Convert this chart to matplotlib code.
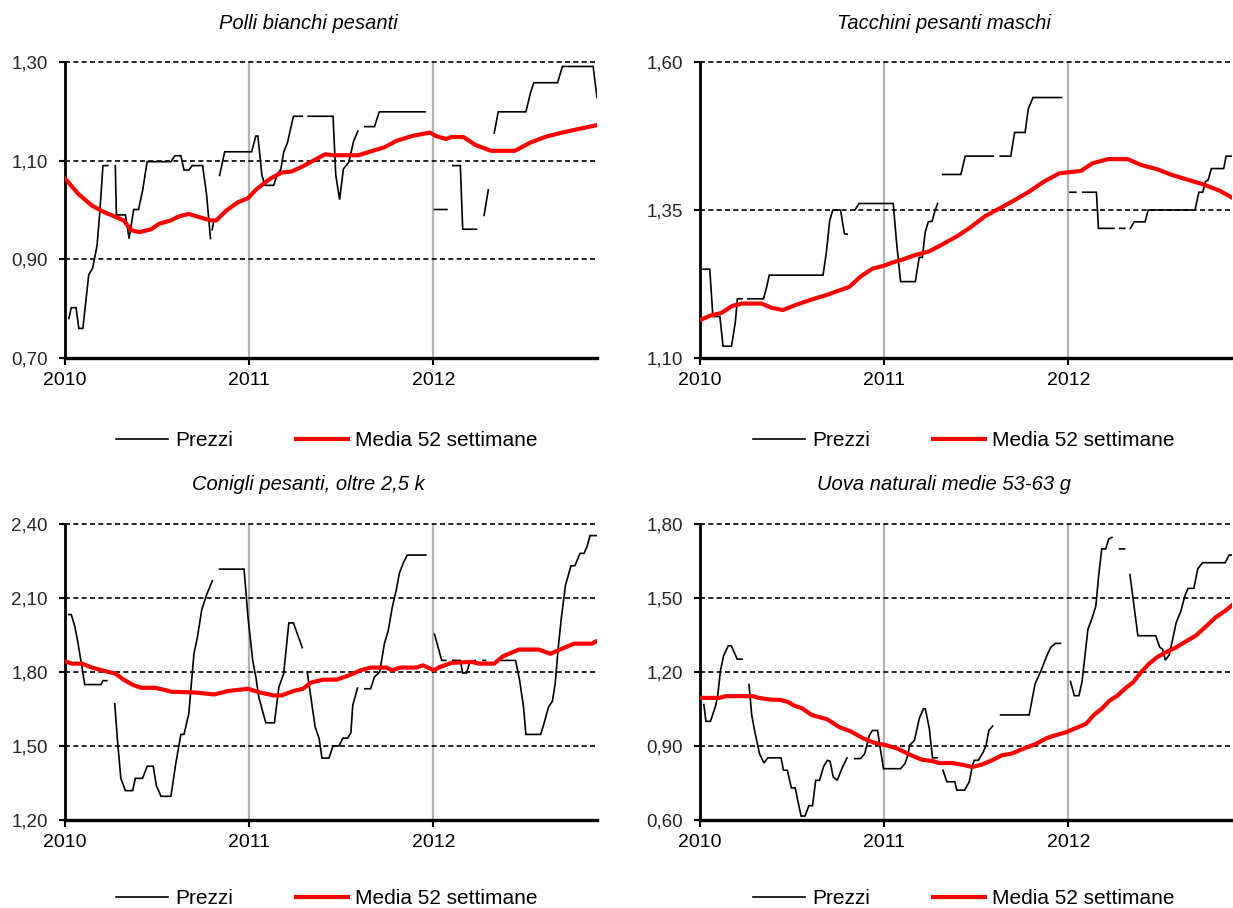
import numpy as np
import matplotlib
matplotlib.use('Agg')
import matplotlib.pyplot as plt
from matplotlib import font_manager

nan = np.nan

# ---------------- data (x in fractional years) ----------------
titles = ["Polli bianchi pesanti", "Tacchini pesanti maschi",
          "Conigli pesanti, oltre 2,5 k", "Uova naturali medie 53-63 g"]
series_names = ["Prezzi", "Media 52 settimane"]
year_ticks = [2010, 2011, 2012]
year_labels = ["2010", "2011", "2012"]

y_ticks_1 = [0.70, 0.90, 1.10, 1.30]
y_ticks_2 = [1.10, 1.35, 1.60]
y_ticks_3 = [1.20, 1.50, 1.80, 2.10, 2.40]
y_ticks_4 = [0.60, 0.90, 1.20, 1.50, 1.80]

# Panel 1 - Polli
p1_price_x = [2010.021, 2010.034, 2010.060, 2010.075, 2010.097, 2010.129, 2010.150, 2010.174, 2010.189, 2010.206, 2010.232, nan,
              2010.273, 2010.279, 2010.328, 2010.348, 2010.373, 2010.399, 2010.421, 2010.446, 2010.575, 2010.597, 2010.629,
              2010.646, 2010.672, 2010.691, 2010.747, 2010.768, 2010.790, nan,
              2010.799, 2010.806, nan,
              2010.839, 2010.867, 2011.013, 2011.036, 2011.047, 2011.069, 2011.086, 2011.133, 2011.150, 2011.172, 2011.187,
              2011.208, 2011.240, 2011.288, nan,
              2011.320, 2011.455, 2011.470, 2011.491, 2011.511, 2011.541, 2011.567, 2011.590, nan,
              2011.627, 2011.680, 2011.706, 2011.955, nan,
              2012.006, 2012.073, nan,
              2012.105, 2012.146, 2012.159, 2012.234, nan,
              2012.275, 2012.298, nan,
              2012.330, 2012.352, 2012.502, 2012.528, 2012.545, 2012.674, 2012.700, 2012.867, 2012.888]
p1_price_y = [0.780, 0.802, 0.802, 0.760, 0.760, 0.869, 0.882, 0.928, 0.996, 1.090, 1.090, nan,
              1.090, 0.990, 0.990, 0.942, 1.001, 1.001, 1.039, 1.098, 1.098, 1.110, 1.110,
              1.081, 1.081, 1.090, 1.090, 1.033, 0.942, nan,
              0.960, 0.975, nan,
              1.070, 1.118, 1.118, 1.150, 1.150, 1.070, 1.050, 1.050, 1.070, 1.083, 1.117,
              1.137, 1.190, 1.190, nan,
              1.190, 1.190, 1.070, 1.021, 1.083, 1.097, 1.140, 1.160, nan,
              1.169, 1.169, 1.199, 1.199, nan,
              1.001, 1.001, nan,
              1.090, 1.090, 0.961, 0.961, nan,
              0.989, 1.041, nan,
              1.156, 1.199, 1.199, 1.239, 1.258, 1.258, 1.291, 1.291, 1.228]
p1_avg_x = [2010.000, 2010.071, 2010.146, 2010.210, 2010.275, 2010.318, 2010.361, 2010.403, 2010.468, 2010.511, 2010.575,
            2010.618, 2010.672, 2010.725, 2010.790, 2010.822, 2010.876, 2010.940, 2010.994, 2011.036, 2011.112, 2011.176,
            2011.230, 2011.283, 2011.348, 2011.412, 2011.455, 2011.594, 2011.670, 2011.734, 2011.798, 2011.884, 2011.981,
            2012.013, 2012.067, 2012.099, 2012.163, 2012.227, 2012.313, 2012.442, 2012.528, 2012.614, 2012.700, 2012.785,
            2012.888]
p1_avg_y = [1.064, 1.033, 1.009, 0.996, 0.986, 0.979, 0.959, 0.955, 0.961, 0.972, 0.979,
            0.987, 0.992, 0.986, 0.979, 0.979, 0.999, 1.016, 1.024, 1.041, 1.063, 1.076,
            1.078, 1.087, 1.100, 1.113, 1.111, 1.111, 1.120, 1.127, 1.140, 1.150, 1.157,
            1.150, 1.144, 1.148, 1.148, 1.132, 1.120, 1.120, 1.137, 1.149, 1.157, 1.164,
            1.172]

# Panel 2 - Tacchini
p2_price_x = [2010.017, 2010.053, 2010.070, 2010.108, 2010.125, 2010.171, 2010.192, 2010.203, 2010.228, nan,
              2010.260, 2010.345, 2010.362, 2010.376, 2010.668, 2010.687, 2010.704, 2010.721, 2010.763, 2010.784, 2010.799, nan,
              2010.841, 2010.863, 2011.049, 2011.068, 2011.089, 2011.169, 2011.190, 2011.207, 2011.222, 2011.239, 2011.260,
              2011.275, 2011.290, nan,
              2011.317, 2011.416, 2011.440, 2011.592, nan,
              2011.630, 2011.687, 2011.708, 2011.765, 2011.782, 2011.808, 2011.962, nan,
              2012.008, 2012.040, nan,
              2012.078, 2012.152, 2012.163, 2012.247, nan,
              2012.279, 2012.306, nan,
              2012.336, 2012.357, 2012.416, 2012.433, 2012.687, 2012.708, 2012.729, 2012.744, 2012.759, 2012.776, 2012.843,
              2012.856, 2012.888]
p2_price_y = [1.250, 1.250, 1.170, 1.170, 1.120, 1.120, 1.161, 1.200, 1.200, nan,
              1.200, 1.200, 1.220, 1.240, 1.240, 1.281, 1.332, 1.350, 1.350, 1.310, 1.309, nan,
              1.350, 1.361, 1.361, 1.292, 1.229, 1.229, 1.270, 1.270, 1.312, 1.330, 1.331,
              1.348, 1.361, nan,
              1.410, 1.410, 1.441, 1.441, nan,
              1.441, 1.441, 1.481, 1.481, 1.521, 1.540, 1.540, nan,
              1.380, 1.380, nan,
              1.380, 1.380, 1.319, 1.319, nan,
              1.319, 1.319, nan,
              1.319, 1.330, 1.330, 1.350, 1.350, 1.380, 1.380, 1.398, 1.401, 1.420, 1.420,
              1.441, 1.441]
p2_avg_x = [2010.000, 2010.059, 2010.116, 2010.175, 2010.228, 2010.334, 2010.387, 2010.450, 2010.514, 2010.598, 2010.683,
            2010.746, 2010.810, 2010.873, 2010.937, 2011.000, 2011.042, 2011.106, 2011.169, 2011.243, 2011.317, 2011.402,
            2011.465, 2011.550, 2011.634, 2011.698, 2011.782, 2011.867, 2011.951, 2012.068, 2012.131, 2012.216, 2012.321,
            2012.395, 2012.480, 2012.564, 2012.649, 2012.734, 2012.818, 2012.888]
p2_avg_y = [1.164, 1.172, 1.176, 1.188, 1.192, 1.192, 1.185, 1.181, 1.189, 1.198, 1.206,
            1.213, 1.220, 1.238, 1.251, 1.256, 1.261, 1.267, 1.274, 1.280, 1.292, 1.307,
            1.320, 1.340, 1.354, 1.365, 1.380, 1.398, 1.412, 1.416, 1.429, 1.436, 1.436,
            1.426, 1.419, 1.409, 1.401, 1.393, 1.383, 1.371]

# Panel 3 - Conigli
p3_price_x = [2010.021, 2010.034, 2010.054, 2010.071, 2010.092, 2010.107, 2010.195, 2010.206, 2010.227, nan,
              2010.270, 2010.285, 2010.303, 2010.328, 2010.367, 2010.382, 2010.421, 2010.446, 2010.479, 2010.496, 2010.521,
              2010.575, 2010.601, 2010.629, 2010.646, 2010.672, 2010.700, 2010.719, 2010.742, 2010.768, 2010.800, nan,
              2010.839, 2010.972, 2010.994, 2011.019, 2011.036, 2011.052, 2011.090, 2011.137, 2011.161, 2011.187, 2011.215,
              2011.240, 2011.288, nan,
              2011.315, 2011.358, 2011.380, 2011.395, 2011.433, 2011.455, 2011.487, 2011.509, 2011.534, 2011.552, 2011.562,
              2011.588, nan,
              2011.627, 2011.659, 2011.680, 2011.708, 2011.734, 2011.755, 2011.777, 2011.798, 2011.815, 2011.837, 2011.858,
              2011.959, nan,
              2012.006, 2012.030, 2012.045, 2012.067, nan,
              2012.105, 2012.146, 2012.159, 2012.180, 2012.197, 2012.227, nan,
              2012.270, 2012.283, nan,
              2012.345, 2012.446, 2012.468, 2012.489, 2012.502, 2012.582, 2012.597, 2012.625, 2012.646, 2012.661, 2012.678,
              2012.695, 2012.717, 2012.747, 2012.768, 2012.796, 2012.818, 2012.835, 2012.850, 2012.888]
p3_price_y = [2.033, 2.033, 1.983, 1.915, 1.820, 1.749, 1.749, 1.765, 1.765, nan,
              1.671, 1.522, 1.369, 1.319, 1.319, 1.369, 1.369, 1.418, 1.418, 1.339, 1.296,
              1.296, 1.427, 1.547, 1.547, 1.631, 1.874, 1.942, 2.051, 2.112, 2.170, nan,
              2.217, 2.217, 2.017, 1.847, 1.780, 1.698, 1.594, 1.594, 1.739, 1.793, 1.999,
              1.999, 1.899, nan,
              1.800, 1.577, 1.529, 1.451, 1.451, 1.500, 1.500, 1.532, 1.532, 1.553, 1.665,
              1.735, nan,
              1.732, 1.732, 1.780, 1.800, 1.915, 1.969, 2.064, 2.132, 2.200, 2.243, 2.274,
              2.274, nan,
              1.953, 1.888, 1.847, 1.847, nan,
              1.847, 1.847, 1.796, 1.796, 1.840, 1.847, nan,
              1.847, 1.847, nan,
              1.847, 1.847, 1.766, 1.658, 1.547, 1.547, 1.583, 1.658, 1.682, 1.753, 1.902,
              2.023, 2.152, 2.231, 2.231, 2.281, 2.281, 2.311, 2.353, 2.353]
p3_avg_x = [2010.000, 2010.039, 2010.092, 2010.146, 2010.200, 2010.275, 2010.318, 2010.371, 2010.414, 2010.489, 2010.554,
            2010.575, 2010.704, 2010.811, 2010.886, 2010.994, 2011.047, 2011.133, 2011.176, 2011.240, 2011.292, 2011.335,
            2011.401, 2011.474, 2011.541, 2011.605, 2011.659, 2011.745, 2011.777, 2011.820, 2011.906, 2011.944, 2012.002,
            2012.034, 2012.099, 2012.206, 2012.249, 2012.330, 2012.378, 2012.464, 2012.571, 2012.635, 2012.700, 2012.764,
            2012.861, 2012.888]
p3_avg_y = [1.843, 1.834, 1.834, 1.818, 1.807, 1.793, 1.769, 1.747, 1.736, 1.736, 1.725,
            1.720, 1.717, 1.709, 1.723, 1.732, 1.719, 1.705, 1.705, 1.723, 1.732, 1.757,
            1.769, 1.769, 1.786, 1.807, 1.818, 1.818, 1.807, 1.818, 1.818, 1.827, 1.807,
            1.820, 1.837, 1.841, 1.834, 1.834, 1.864, 1.891, 1.891, 1.874, 1.895, 1.915,
            1.915, 1.926]

# Panel 4 - Uova
p4_price_x = [2010.021, 2010.032, 2010.057, 2010.085, 2010.096, 2010.111, 2010.128, 2010.153, 2010.170, 2010.202, 2010.228, nan,
              2010.266, 2010.281, 2010.298, 2010.323, 2010.347, 2010.368, 2010.440, 2010.453, 2010.474, 2010.496, 2010.517,
              2010.532, 2010.549, 2010.570, 2010.591, 2010.611, 2010.628, 2010.649, 2010.670, 2010.691, 2010.706, 2010.723,
              2010.745, 2010.772, 2010.798, nan,
              2010.840, 2010.872, 2010.894, 2010.919, 2010.936, 2010.964, 2010.979, 2010.996, 2011.089, 2011.113, 2011.128,
              2011.138, 2011.164, 2011.191, 2011.213, 2011.223, 2011.245, 2011.262, 2011.287, nan,
              2011.319, 2011.340, 2011.383, 2011.394, 2011.436, 2011.462, 2011.479, 2011.489, 2011.511, 2011.538, 2011.553,
              2011.568, 2011.589, nan,
              2011.632, 2011.787, 2011.819, 2011.851, 2011.883, 2011.904, 2011.930, 2011.957, nan,
              2012.011, 2012.032, 2012.057, 2012.074, 2012.106, 2012.128, 2012.149, 2012.164, 2012.181, 2012.202, 2012.219,
              2012.236, nan,
              2012.277, 2012.304, nan,
              2012.334, 2012.355, 2012.377, 2012.474, 2012.496, 2012.511, 2012.526, 2012.547, 2012.564, 2012.585, 2012.611,
              2012.632, 2012.649, 2012.681, 2012.702, 2012.728, 2012.851, 2012.872, 2012.888]
p4_price_y = [1.068, 1.000, 1.000, 1.064, 1.104, 1.205, 1.266, 1.306, 1.306, 1.252, 1.252, nan,
              1.149, 1.024, 0.956, 0.869, 0.831, 0.852, 0.852, 0.802, 0.802, 0.730, 0.730,
              0.674, 0.616, 0.616, 0.658, 0.658, 0.761, 0.761, 0.815, 0.842, 0.838, 0.775,
              0.761, 0.811, 0.852, nan,
              0.849, 0.849, 0.869, 0.943, 0.963, 0.963, 0.889, 0.808, 0.808, 0.829, 0.862,
              0.903, 0.923, 1.013, 1.051, 1.051, 0.970, 0.852, 0.852, nan,
              0.802, 0.755, 0.755, 0.721, 0.721, 0.755, 0.822, 0.842, 0.842, 0.876, 0.903,
              0.963, 0.981, nan,
              1.026, 1.026, 1.152, 1.205, 1.266, 1.300, 1.316, 1.316, nan,
              1.162, 1.104, 1.104, 1.161, 1.374, 1.417, 1.468, 1.589, 1.699, 1.699, 1.739,
              1.746, nan,
              1.699, 1.699, nan,
              1.595, 1.474, 1.347, 1.347, 1.300, 1.293, 1.248, 1.269, 1.326, 1.400, 1.448,
              1.508, 1.539, 1.539, 1.618, 1.643, 1.643, 1.674, 1.674]
p4_avg_x = [2010.000, 2010.106, 2010.138, 2010.287, 2010.319, 2010.383, 2010.436, 2010.479, 2010.511, 2010.553, 2010.606,
            2010.691, 2010.755, 2010.819, 2010.883, 2010.947, 2011.011, 2011.074, 2011.138, 2011.202, 2011.266, 2011.298,
            2011.372, 2011.436, 2011.479, 2011.532, 2011.585, 2011.638, 2011.691, 2011.755, 2011.819, 2011.883, 2011.926,
            2011.989, 2012.032, 2012.096, 2012.138, 2012.181, 2012.223, 2012.266, 2012.309, 2012.351, 2012.394, 2012.436,
            2012.479, 2012.521, 2012.585, 2012.649, 2012.691, 2012.734, 2012.798, 2012.851, 2012.888]
p4_avg_y = [1.095, 1.095, 1.102, 1.102, 1.095, 1.088, 1.087, 1.078, 1.064, 1.053, 1.026,
            1.008, 0.977, 0.959, 0.932, 0.913, 0.903, 0.889, 0.865, 0.845, 0.838, 0.831,
            0.831, 0.822, 0.815, 0.825, 0.842, 0.862, 0.869, 0.889, 0.907, 0.932, 0.943,
            0.956, 0.970, 0.990, 1.026, 1.051, 1.084, 1.104, 1.134, 1.158, 1.199, 1.232,
            1.259, 1.277, 1.300, 1.329, 1.347, 1.376, 1.421, 1.448, 1.470]

# ---------------- fonts ----------------
avail = {f.name for f in font_manager.fontManager.ttflist}
base_font = 'Liberation Sans' if 'Liberation Sans' in avail else 'DejaVu Sans'
narrow_font = 'Liberation Sans Narrow' if 'Liberation Sans Narrow' in avail else base_font
plt.rcParams['font.family'] = [base_font, 'DejaVu Sans']

# ---------------- figure ----------------
W, H = 1233, 908
fig = plt.figure(figsize=(W / 100, H / 100), dpi=100)

panels = [
    dict(rect=(65, 62), yt=y_ticks_1, px=p1_price_x, py=p1_price_y, ax_=p1_avg_x, ay=p1_avg_y,
         title=titles[0], tx=308, ty=29, ly=441, lx=327),
    dict(rect=(700, 62), yt=y_ticks_2, px=p2_price_x, py=p2_price_y, ax_=p2_avg_x, ay=p2_avg_y,
         title=titles[1], tx=944, ty=29, ly=441, lx=964),
    dict(rect=(65, 524), yt=y_ticks_3, px=p3_price_x, py=p3_price_y, ax_=p3_avg_x, ay=p3_avg_y,
         title=titles[2], tx=308, ty=490, ly=899, lx=327),
    dict(rect=(700, 524), yt=y_ticks_4, px=p4_price_x, py=p4_price_y, ax_=p4_avg_x, ay=p4_avg_y,
         title=titles[3], tx=944, ty=490, ly=899, lx=964),
]

aw, ah = 532, 296
for p in panels:
    x0, ytop = p['rect']
    ax = fig.add_axes([x0 / W, 1 - (ytop + ah) / H, aw / W, ah / H])
    yt = p['yt']
    ax.set_xlim(2010.0, 2012.888)
    ax.set_ylim(yt[0], yt[-1])
    for sp in ['top', 'right']:
        ax.spines[sp].set_visible(False)
    ax.spines['left'].set_linewidth(2.0)
    ax.spines['bottom'].set_linewidth(2.4)
    ax.set_axisbelow(True)
    # grid
    for yv in yt[1:]:
        ax.axhline(yv, color='black', lw=1.2, ls=(0, (3, 2)), zorder=1, clip_on=False)
    for xv in year_ticks[1:]:
        ax.axvline(xv, color='#b3b3b3', lw=1.6, zorder=0.5)
    ax.set_xticks(year_ticks)
    ax.set_xticklabels(year_labels, fontsize=14)
    ax.set_yticks(yt)
    ax.set_yticklabels([f"{v:.2f}".replace('.', ',') for v in yt], fontsize=13.5,
                       family=narrow_font, color='#262626')
    ax.tick_params(axis='y', direction='out', length=4.5, width=1.5, pad=8)
    ax.tick_params(axis='x', direction='out', length=5, width=1.5, pad=5)

    l1, = ax.plot(p['px'], p['py'], color='black', lw=1.2, zorder=3, solid_joinstyle='miter')
    l2, = ax.plot(p['ax_'], p['ay'], color='#ff0000', lw=3.0, zorder=4)

    fig.text(p['tx'] / W, 1 - p['ty'] / H, p['title'], ha='center', va='baseline',
             fontsize=14.5, style='italic')
    fig.legend([l1, l2], series_names, loc='center', ncol=2, frameon=False,
               bbox_to_anchor=(p['lx'] / W, 1 - p['ly'] / H), bbox_transform=fig.transFigure,
               fontsize=15, handlelength=2.5, handletextpad=0.35, columnspacing=3.0)

fig.savefig('out.png', dpi=100)
